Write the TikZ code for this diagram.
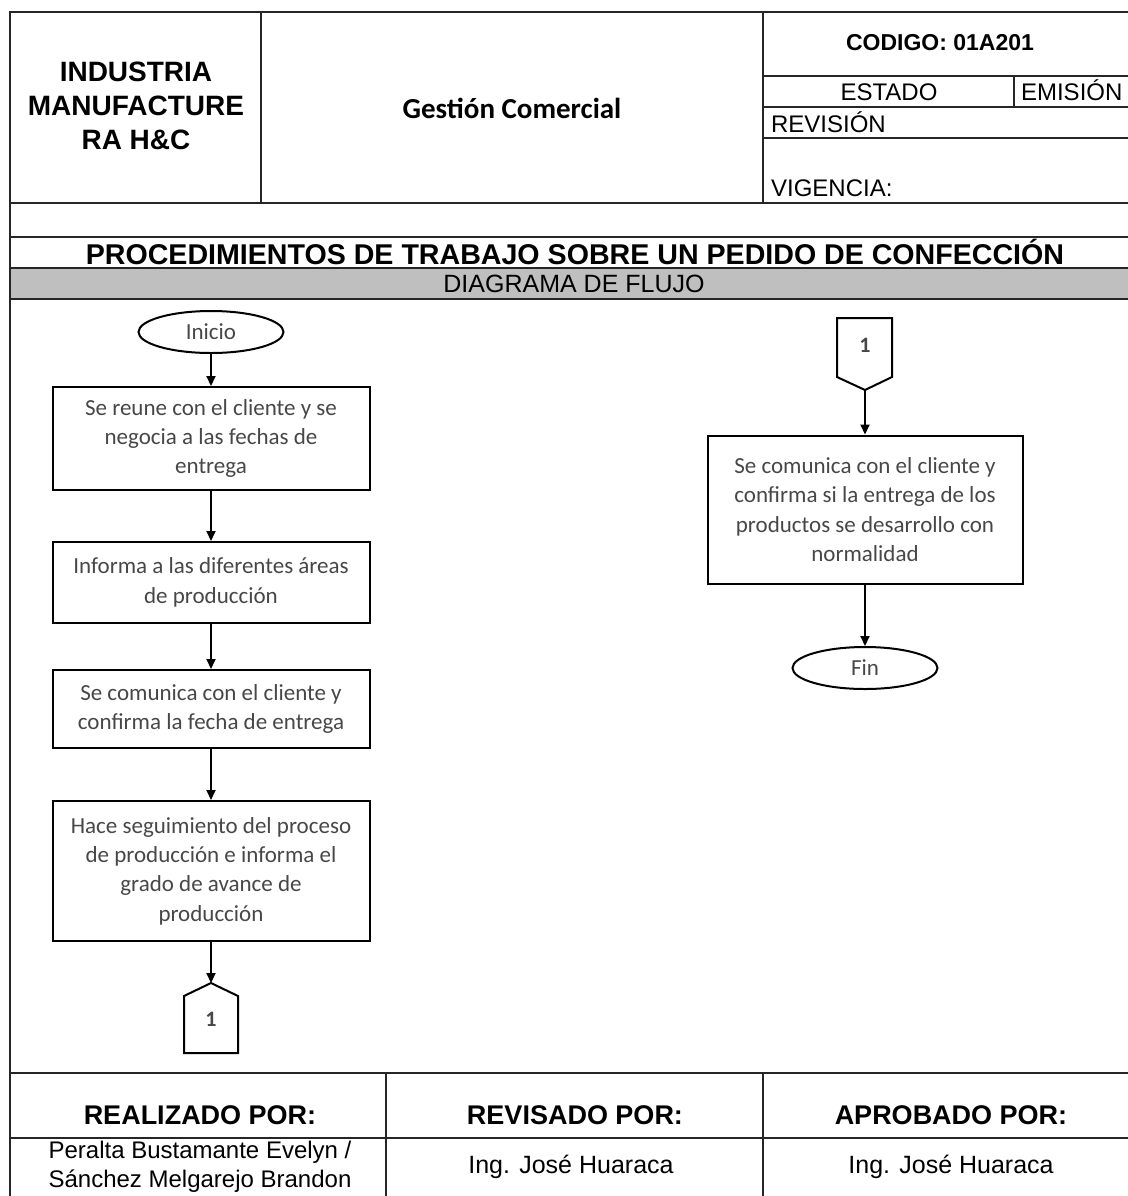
\documentclass[tikz,border=0pt]{standalone}
\usepackage{fontspec}
\setmainfont{Liberation Sans}
\newfontfamily\calibri{Carlito}
\usetikzlibrary{arrows.meta,shapes.geometric}

\definecolor{bandgray}{gray}{0.75}
\definecolor{flowtext}{gray}{0.28}

\begin{document}
\begin{tikzpicture}[x=0.5pt, y=-0.5pt,
  rule/.style={black!85, line width=1pt},
  proc/.style={draw, line width=1pt, rectangle, minimum width=158.5pt, inner sep=2pt,
    align=center, text=flowtext, font=\calibri\fontsize{11.5}{14.7}\selectfont},
  term/.style={draw, line width=1pt, ellipse, minimum width=72.5pt, minimum height=21pt,
    inner sep=0pt, text=flowtext, font=\calibri\fontsize{11.5}{14}\selectfont},
  offpage/.style={draw, line width=1pt, line join=miter},
  flow/.style={line width=1pt, -{Triangle[length=5pt,width=4.5pt]}},
  headbig/.style={align=center, font=\bfseries\fontsize{14}{17}\selectfont},
  headmid/.style={font=\bfseries\fontsize{11.5}{14}\selectfont},
  cell/.style={font=\fontsize{12}{14.5}\selectfont, align=center},
  signhead/.style={font=\bfseries\fontsize{13.5}{16}\selectfont}]

  \useasboundingbox (0,0) rectangle (1128,1196);
  \clip (0,0) rectangle (1128,1196);

  % grey band behind the flow title
  \fill[bandgray] (10,268) rectangle (1140,299);

  % table frame and rules
  \draw[rule] (1140,12) -- (10,12) -- (10,1210);
  \draw[rule] (261,12) -- (261,203);
  \draw[rule] (763,12) -- (763,203);
  \draw[rule] (763,76) -- (1140,76);
  \draw[rule] (763,107) -- (1140,107);
  \draw[rule] (763,138) -- (1140,138);
  \draw[rule] (1014,76) -- (1014,107);
  \foreach \yy in {203,237,268,299,1073,1138}
    \draw[rule] (10,\yy) -- (1140,\yy);
  \draw[rule] (386,1073) -- (386,1210);
  \draw[rule] (763,1073) -- (763,1210);

  % header
  \node[headbig] (firm) at (136,106) {INDUSTRIA\\MANUFACTURE\\RA H\&C};
  \node[font=\calibri\bfseries\fontsize{14.5}{17}\selectfont] (area) at (512,108) {Gestión Comercial};
  \node[headmid] (code) at (940,43) {CODIGO: 01A201};
  \node[cell, anchor=base] (estado) at (889,100) {ESTADO};
  \node[cell, anchor=base west] (emision) at (1014,100) {EMISIÓN};
  \node[cell, anchor=base west] (revision) at (764,132) {REVISIÓN};
  \node[cell, anchor=base west] (vigencia) at (764,196) {VIGENCIA:};
  \node[headbig, font=\bfseries\fontsize{14.3}{17}\selectfont] (title) at (575,252) {PROCEDIMIENTOS DE TRABAJO SOBRE UN PEDIDO DE CONFECCIÓN};
  \node[font=\fontsize{12.5}{15}\selectfont] (flowhead) at (574,284) {DIAGRAMA DE FLUJO};

  % left column of the flow
  \node[term] (ini) at (211,332) {Inicio};
  \node[proc, minimum height=51.5pt] (s1) at (211,438.5) {Se reune con el cliente y se\\negocia a las fechas de\\entrega};
  \node[proc, minimum height=40.5pt] (s2) at (211,582.5) {Informa a las diferentes áreas\\de producción};
  \node[proc, minimum height=39pt] (s3) at (211,709) {Se comunica con el cliente y\\confirma la fecha de entrega};
  \node[proc, minimum height=70pt] (s4) at (211,871) {Hace seguimiento del proceso\\de producción e informa el\\grado de avance de\\producción};

  \draw[offpage] (184,1053) -- (184,996) -- (211,983) -- (238,996) -- (238,1053) -- cycle;
  \coordinate (outtop) at (211,983);
  \node[text=flowtext, font=\calibri\bfseries\fontsize{11}{13}\selectfont] (out1) at (211,1019) {1};

  \draw[flow] (ini.south) -- (s1.north);
  \draw[flow] (s1.south) -- (s2.north);
  \draw[flow] (s2.south) -- (s3.north);
  \draw[flow] (s3.south) -- (s4.north);
  \draw[flow] (s4.south) -- (outtop);

  % right column of the flow
  \draw[offpage] (837,318) -- (892,318) -- (892,377) -- (865,390) -- (837,377) -- cycle;
  \coordinate (intip) at (865,390);
  \node[text=flowtext, font=\calibri\bfseries\fontsize{11}{13}\selectfont] (in1) at (865,345) {1};
  \node[proc, minimum width=157.5pt, minimum height=74pt] (r1) at (865,509.5) {Se comunica con el cliente y\\confirma si la entrega de los\\productos se desarrollo con\\normalidad};
  \node[term] (fin) at (865,668) {Fin};

  \draw[flow] (intip) -- (r1.north);
  \draw[flow] (r1.south) -- (fin.north);

  % signatures
  \node[signhead] (made) at (200,1115) {REALIZADO POR:};
  \node[signhead] (checked) at (575,1115) {REVISADO POR:};
  \node[signhead] (approved) at (951,1115) {APROBADO POR:};
  \node[cell] (madename) at (200,1167) {Peralta Bustamante Evelyn /\\Sánchez Melgarejo Brandon};
  \node[cell, font=\fontsize{12.5}{15}\selectfont] (checkedname) at (571,1167) {Ing. José Huaraca};
  \node[cell, font=\fontsize{12.5}{15}\selectfont] (approvedname) at (951,1167) {Ing. José Huaraca};
\end{tikzpicture}
\end{document}
